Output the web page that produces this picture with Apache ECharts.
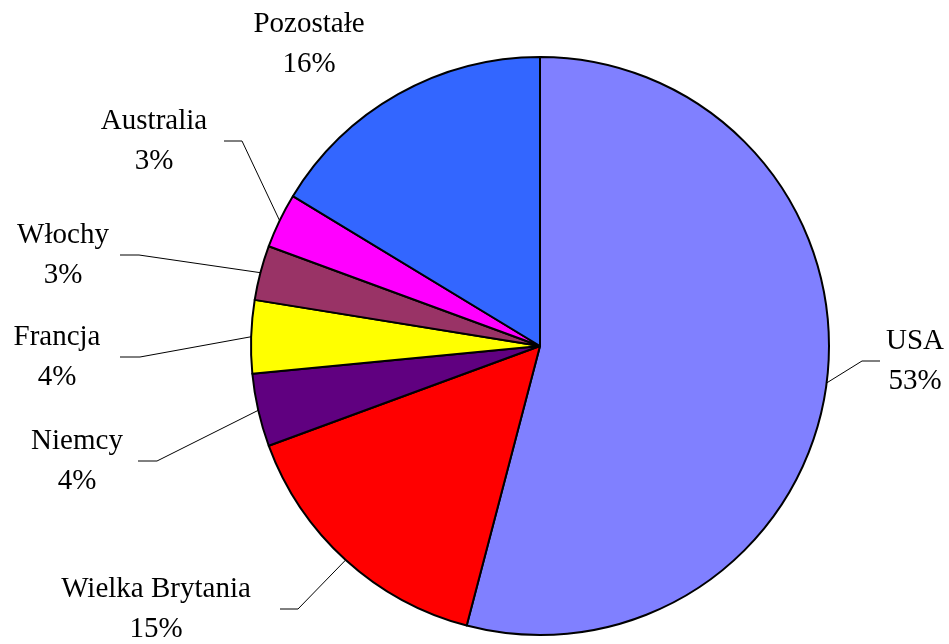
<!DOCTYPE html>
<html><head><meta charset="utf-8">
<script src="https://cdn.jsdelivr.net/npm/echarts@6/dist/echarts.min.js"></script>
<style>html,body{margin:0;padding:0;background:#fff}#c{width:949px;height:644px}</style>
</head><body><div id="c"></div>
<script>
const categories = ['USA', 'Wielka Brytania', 'Niemcy', 'Francja', 'Włochy', 'Australia', 'Pozostałe'];
const shares = [53, 15, 4, 4, 3, 3, 16];

const colors = ['#8080FF', '#FF0000', '#600080', '#FFFF00', '#993366', '#FF00FF', '#3366FF'];
// label placement in px: label block centre (x, y), leader elbow x and end x (null = no leader)
const labelPlace = [
  { x: 915, y: 361, ex: 862, lx: 880 },
  { x: 156, y: 609, ex: 298, lx: 280 },
  { x: 77, y: 461, ex: 157, lx: 138 },
  { x: 57, y: 357, ex: 140, lx: 120 },
  { x: 63, y: 255, ex: 139, lx: 120 },
  { x: 154, y: 141, ex: 242, lx: 224 },
  { x: 309, y: 44, ex: null, lx: null }
];

const chart = echarts.init(document.getElementById('c'), null, { renderer: 'canvas' });
chart.setOption({
  animation: false,
  backgroundColor: '#ffffff',
  series: [{
    type: 'pie',
    center: [540, 346],
    radius: [0, 289],
    startAngle: 90,
    clockwise: true,
    avoidLabelOverlap: false,
    itemStyle: { borderColor: '#000', borderWidth: 2 },
    label: {
      show: true,
      position: 'outside',
      formatter: '{b}\n{c}%',
      color: '#000',
      fontFamily: 'Liberation Serif',
      fontSize: 29,
      lineHeight: 40,
      align: 'center'
    },
    labelLine: { show: true, lineStyle: { color: '#000', width: 1 }, length: 10, length2: 10 },
    labelLayout: function (p) {
      const L = labelPlace[p.dataIndex];
      const out = { x: L.x, y: L.y, align: 'center', verticalAlign: 'middle' };
      if (L.ex != null && p.labelLinePoints) {
        const s = p.labelLinePoints[0];
        out.labelLinePoints = [[s[0], s[1]], [L.ex, L.y], [L.lx, L.y]];
      }
      return out;
    },
    emphasis: { disabled: true },
    data: categories.map(function (n, i) {
      const d = { name: n, value: shares[i], itemStyle: { color: colors[i] } };
      if (labelPlace[i].ex == null) d.labelLine = { show: false };
      return d;
    })
  }]
});
</script>
</body></html>
